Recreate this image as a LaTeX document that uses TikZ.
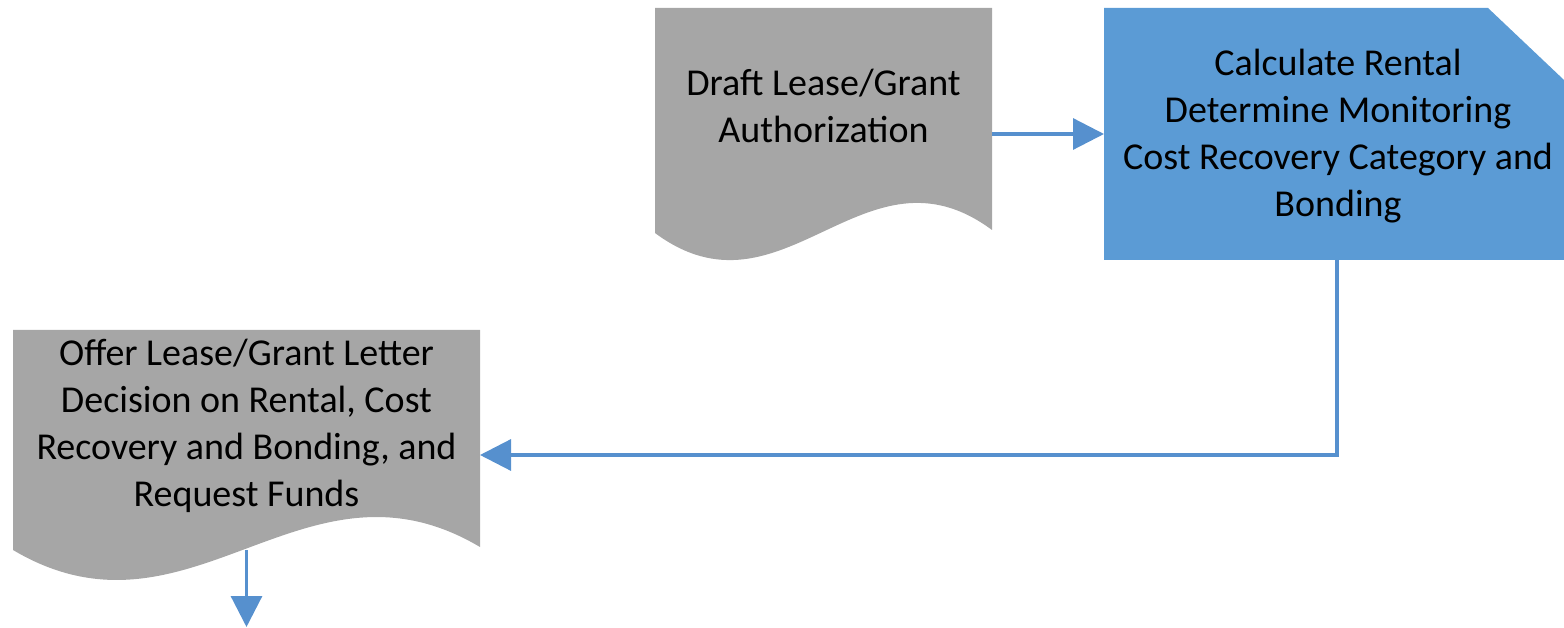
\documentclass[tikz,border=0pt]{standalone}
\usepackage{fontspec}
\setmainfont{Carlito}
\usetikzlibrary{arrows.meta}
\definecolor{docgray}{HTML}{A6A6A6}
\definecolor{procblue}{HTML}{5B9BD5}
\definecolor{flowblue}{HTML}{5690CE}
\tikzset{
  shapebox/.style={inner sep=0pt, outer sep=0pt},
  boxtext/.style={align=center, font=\fontsize{38}{47}\selectfont},
  flow/.style={draw=flowblue, line width=3.2pt, -{Triangle[length=31pt,width=31pt]}}
}
\begin{document}
\begin{tikzpicture}[x=1pt,y=1pt]
\useasboundingbox (0,0) rectangle (1564,627);

% shapes
\fill[docgray] (655,619) -- (992,619) -- (992,397) .. controls (864,492) and (783,299) .. (655,394) -- cycle;
\fill[procblue] (1104,619) -- (1488,619) -- (1564,547) -- (1564,367) -- (1104,367) -- cycle;
\fill[docgray] (13,297) -- (480,297) -- (480,80) .. controls (303,185) and (190,-28) .. (13,77) -- cycle;

\node[shapebox, minimum width=337pt, minimum height=252pt] (draft) at (823.5,493) {};
\node[shapebox, minimum width=460pt, minimum height=252pt] (calc) at (1334,493) {};
\node[shapebox, minimum width=467pt, minimum height=250pt] (offer) at (246.5,172) {};

% texts
\node[boxtext] (draftText) at (823.5,521) {Draft Lease/Grant\\Authorization};
\node[boxtext] (calcText) at (1338,491) {Calculate Rental\\Determine Monitoring\\Cost Recovery Category and\\Bonding};
\node[boxtext] (offerText) at (246.5,201) {Offer Lease/Grant Letter\\Decision on Rental, Cost\\Recovery and Bonding, and\\Request Funds};

% arrows
\coordinate (next) at (246.5,0);
\draw[flow] (draft.east) -- (calc.west);
\draw[flow] ([xshift=3pt]calc.south) |- (offer.east);
\draw[flow] ([yshift=30pt]offer.south) -- (next);
\end{tikzpicture}
\end{document}
